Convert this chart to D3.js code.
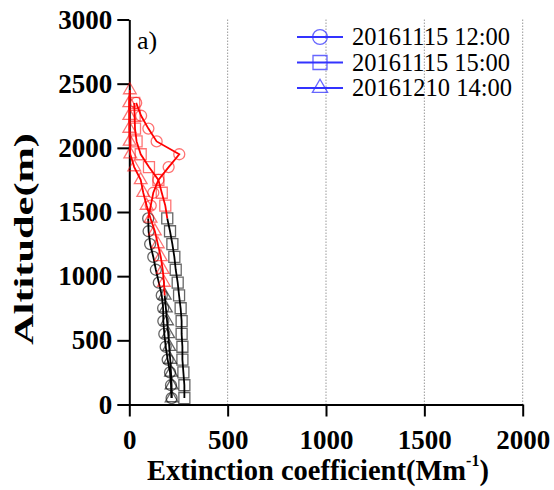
<!DOCTYPE html>
<html lang="en">
<head>
<meta charset="UTF-8">
<title>Extinction coefficient profiles</title>
<script src="https://d3js.org/d3.v7.min.js"></script>
<style>
  body { margin: 0; background: #fff; }
</style>
</head>
<body>
<div id="chart"></div>
<script>
// altitude levels (m)
const altLow = [50, 150, 250, 350, 450, 550, 650, 750, 850, 950, 1050, 1150, 1250, 1350, 1450];
const altHigh = [1550, 1650, 1750, 1850, 1950, 2050, 2150, 2250, 2350];
const altTriLow = [50, 150, 250, 350, 450, 550, 650, 750, 850];
const altTriHigh = [950, 1050, 1150, 1250, 1350, 1450, 1550, 1650, 1750, 1850, 1950, 2050, 2150, 2250, 2350, 2450];

// extinction coefficient (Mm-1)
const circLow = [215, 212, 207, 195, 185, 178, 173, 172, 165, 150, 135, 122, 106, 98, 96];
const circHigh = [109, 122, 148, 200, 254, 139, 97, 60, 35];
const sqLow = [280, 280, 275, 270, 270, 266, 266, 261, 253, 246, 236, 229, 219, 207, 193];
const sqHigh = [183, 165, 148, 100, 58, 37, 29, 27, 25];
const triLow = [215, 215, 212, 208, 203, 198, 192, 186, 180];
const triHigh = [176, 170, 160, 145, 130, 108, 88, 71, 58, 25, 5, 2, 0, 0, 0, 3];

const seriesNames = ["20161115 12:00", "20161115 15:00", "20161210 14:00"];
const xTicks = [0, 500, 1000, 1500, 2000];
const yTicks = [0, 500, 1000, 1500, 2000, 2500, 3000];

const SERIF = "'Liberation Serif', 'Times New Roman', serif";

const W = 554, H = 490;
const svg = d3.select("#chart").append("svg")
    .attr("width", W).attr("height", H);

const x = d3.scaleLinear().domain([0, 2000]).range([129.3, 522.7]);
const y = d3.scaleLinear().domain([0, 3000]).range([404.5, 19.5]);

// dotted grid
svg.append("g")
    .selectAll("line")
    .data(xTicks.slice(1))
    .enter().append("line")
    .attr("x1", d => x(d)).attr("x2", d => x(d))
    .attr("y1", y(3000)).attr("y2", y(0))
    .attr("stroke", "#999")
    .attr("stroke-width", 1)
    .attr("stroke-dasharray", "1.5,1.5");

// axes
const xAxis = svg.append("g")
    .attr("transform", `translate(0,${y(0)})`)
    .call(d3.axisBottom(x).tickValues(xTicks).tickFormat(d3.format("d"))
        .tickSizeInner(12).tickSizeOuter(0).tickPadding(13));
const yAxis = svg.append("g")
    .attr("transform", `translate(${x(0)},0)`)
    .call(d3.axisLeft(y).tickValues(yTicks).tickFormat(d3.format("d"))
        .tickSizeInner(12).tickSizeOuter(0).tickPadding(5));

[xAxis, yAxis].forEach(a => {
    a.attr("font-family", null).attr("font-size", null);
    a.selectAll("path, line").attr("stroke", "#000").attr("stroke-width", 2);
    a.selectAll("text")
        .attr("fill", "#000")
        .style("font-family", SERIF)
        .style("font-weight", "bold")
        .style("font-size", "27px");
});

const series = [
    { name: seriesNames[0], sym: d3.symbolCircle, size: 95, low: circLow, lowAlt: altLow, high: circHigh, highAlt: altHigh },
    { name: seriesNames[1], sym: d3.symbolSquare, size: 121, low: sqLow, lowAlt: altLow, high: sqHigh, highAlt: altHigh },
    { name: seriesNames[2], sym: d3.symbolTriangle, size: 70, low: triLow, lowAlt: altTriLow, high: triHigh, highAlt: altTriHigh }
];

const line = d3.line().x(d => x(d.v)).y(d => y(d.a));

series.forEach(s => {
    const lowPts = s.low.map((v, i) => ({ v: v, a: s.lowAlt[i] }));
    const highPts = s.high.map((v, i) => ({ v: v, a: s.highAlt[i] }));

    svg.append("g").selectAll("path")
        .data(lowPts)
        .enter().append("path")
        .attr("transform", d => `translate(${x(d.v)},${y(d.a)})`)
        .attr("d", d3.symbol().type(s.sym).size(s.size))
        .attr("fill", "none")
        .attr("stroke", "#000")
        .attr("stroke-opacity", 0.6)
        .attr("stroke-width", 1.3);

    svg.append("g").selectAll("path")
        .data(highPts)
        .enter().append("path")
        .attr("transform", d => `translate(${x(d.v)},${y(d.a)})`)
        .attr("d", d3.symbol().type(s.sym).size(s.size))
        .attr("fill", "none")
        .attr("stroke", "#ff0000")
        .attr("stroke-opacity", 0.55)
        .attr("stroke-width", 1.3);

    svg.append("path")
        .attr("d", line(lowPts))
        .attr("fill", "none")
        .attr("stroke", "#000")
        .attr("stroke-width", 1.8);

    svg.append("path")
        .attr("d", line([lowPts[lowPts.length - 1]].concat(highPts)))
        .attr("fill", "none")
        .attr("stroke", "#ff0000")
        .attr("stroke-width", 1.8);
});

// legend
const legendSizes = [170, 196, 100];
const legend = svg.selectAll(".legend")
    .data(series)
    .enter().append("g")
    .attr("class", "legend")
    .attr("transform", (d, i) => `translate(297,${37 + i * 25.5})`);

legend.append("line")
    .attr("x1", 0).attr("x2", 46)
    .attr("stroke", "#3333ff")
    .attr("stroke-width", 1.8);

legend.append("path")
    .attr("transform", "translate(23,0)")
    .attr("d", (d, i) => d3.symbol().type(d.sym).size(legendSizes[i])())
    .attr("fill", "none")
    .attr("stroke", "#3333ff")
    .attr("stroke-opacity", 0.75)
    .attr("stroke-width", 1.3);

legend.append("text")
    .attr("x", 55)
    .attr("y", 8)
    .style("font-family", SERIF)
    .style("font-size", "24.5px")
    .attr("fill", "#000")
    .text(d => d.name);

// panel label
svg.append("text")
    .attr("x", 137).attr("y", 49)
    .style("font-family", SERIF)
    .style("font-size", "26px")
    .text("a)");

// axis titles
const xt = svg.append("text")
    .attr("x", 318).attr("y", 480)
    .attr("text-anchor", "middle")
    .style("font-family", SERIF)
    .style("font-size", "28.5px")
    .style("font-weight", "bold");
xt.append("tspan").text("Extinction coefficient(Mm");
xt.append("tspan").attr("dy", -14).style("font-size", "16px").text("-1");
xt.append("tspan").attr("dy", 14).text(")");

svg.append("text")
    .attr("transform", "translate(33,239) rotate(-90)")
    .attr("text-anchor", "middle")
    .attr("textLength", 212)
    .attr("lengthAdjust", "spacingAndGlyphs")
    .style("font-family", SERIF)
    .style("font-size", "27px")
    .style("font-weight", "bold")
    .text("Altitude(m)");
</script>
</body>
</html>
